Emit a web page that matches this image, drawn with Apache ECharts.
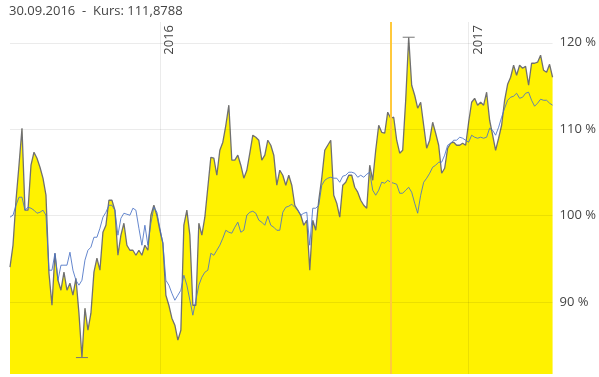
<!DOCTYPE html>
<html>
<head>
<meta charset="utf-8">
<script src="https://cdn.jsdelivr.net/npm/echarts@6.0.0/dist/echarts.min.js"></script>
<style>
  html, body { margin: 0; padding: 0; background: #fff; }
  #chart { width: 599px; height: 377px; }
</style>
</head>
<body>
<div id="chart"></div>
<script>
const kurs = [
  94.05, 96.59, 101.79, 105.84, 110.12, 100.64, 100.64, 105.84, 107.34, 106.65,
  105.61, 104.34, 102.37, 93.35, 89.65, 95.66, 92.54, 91.39, 93.47, 91.39,
  92.20, 90.81, 92.77, 88.73, 83.6, 89.31, 86.76, 88.73, 93.47, 95.09,
  93.70, 98.09, 98.90, 101.79, 101.79, 100.64, 95.43, 97.75, 99.13, 96.59,
  96.01, 96.01, 95.43, 96.01, 95.43, 96.59, 96.01, 100.06, 101.21, 100.06,
  98.32, 96.82, 90.81, 89.65, 88.15, 87.34, 85.61, 86.76, 98.90, 100.64,
  97.75, 89.65, 89.65, 99.13, 97.75, 99.83, 103.29, 106.76, 106.65, 104.68,
  107.57, 108.50, 110.46, 112.78, 106.42, 106.42, 107.00, 105.84, 104.34, 105.26,
  107.23, 109.31, 109.08, 108.73, 106.42, 107.00, 108.73, 108.15, 107.00, 103.53,
  105.26, 104.68, 103.53, 104.68, 103.53, 101.21, 100.64, 100.06, 98.90, 99.48,
  93.70, 99.48, 98.32, 101.79, 104.34, 107.57, 108.15, 108.73, 102.37, 101.45,
  99.83, 103.53, 103.87, 104.68, 104.68, 103.29, 102.72, 101.79, 101.21, 100.87,
  105.84, 104.10, 107.57, 110.46, 109.65, 109.54, 111.97, 111.27, 111.39, 108.73,
  107.23, 107.57, 113.35, 120.64, 115.09, 113.93, 112.43, 113.12, 110.46, 107.80,
  108.73, 110.81, 109.54, 108.15, 104.91, 105.49, 107.80, 108.38, 108.50, 108.15,
  108.15, 108.38, 108.15, 110.81, 113.12, 113.58, 112.78, 113.12, 112.78, 114.28,
  111.04, 109.31, 107.57, 108.96, 110.46, 113.35, 115.20, 116.01, 117.40, 116.24,
  117.40, 117.05, 117.28, 115.09, 117.63, 117.63, 117.75, 118.56, 116.82, 116.59,
  117.51, 116.01
];

// Vergleichsindex in %
const vergleich = [
  99.83, 100.06, 101.21, 102.14, 102.14, 100.64, 100.98, 100.87, 100.64, 100.29,
  100.40, 100.64, 100.06, 93.70, 93.70, 95.66, 92.54, 94.28, 94.28, 94.28,
  95.78, 93.70, 92.54, 91.97, 92.54, 94.86, 96.01, 96.36, 97.51, 97.51,
  98.55, 99.83, 100.40, 101.21, 101.21, 100.64, 97.75, 99.71, 100.29, 100.17,
  100.06, 100.87, 100.64, 98.55, 96.59, 98.90, 96.59, 99.13, 100.98, 100.40,
  98.55, 96.82, 92.54, 91.97, 91.04, 90.23, 90.81, 91.39, 93.12, 91.97,
  90.23, 88.50, 90.23, 91.97, 92.89, 93.47, 93.70, 95.66, 95.43, 96.01,
  96.59, 97.40, 98.32, 98.09, 97.98, 98.67, 99.25, 98.09, 98.32, 100.06,
  100.40, 100.52, 100.29, 99.48, 99.25, 98.90, 99.94, 98.90, 98.67, 98.32,
  98.32, 100.40, 100.98, 101.10, 101.33, 100.98, 100.64, 100.06, 100.29, 100.40,
  96.59, 100.87, 100.87, 101.21, 103.53, 104.10, 104.34, 104.45, 104.34, 104.34,
  103.87, 104.57, 104.68, 105.03, 105.03, 104.91, 104.45, 104.68, 104.45, 104.80,
  105.03, 102.95, 102.37, 102.95, 103.87, 103.76, 104.10, 103.87, 103.76, 103.64,
  102.60, 102.60, 102.95, 103.29, 102.72, 101.45, 100.29, 102.37, 103.87, 104.34,
  104.91, 105.61, 105.84, 106.19, 106.19, 107.00, 108.15, 108.38, 108.73, 108.73,
  109.08, 108.96, 108.73, 108.50, 109.31, 109.08, 108.96, 109.08, 108.96, 109.08,
  110.12, 109.88, 109.31, 110.23, 111.39, 112.43, 113.35, 113.70, 113.82, 114.16,
  113.58, 113.70, 114.16, 114.28, 113.35, 112.66, 113.01, 113.47, 113.35, 113.35,
  113.01, 112.78
];

const yTicks = [90, 100, 110, 120];
const yearMarks = [Date.UTC(2016, 0, 1), Date.UTC(2017, 0, 1)];
const yearLabels = ['2016', '2017'];
const cursorDate = Date.UTC(2016, 8, 30);
const titleText = '30.09.2016  -  Kurs: 111,8788';

// Datumsachse: erster Wert am 07.07.2015, danach gleichmäßige Schritte
const startDate = Date.UTC(2015, 6, 7);
const stepDays = 3.555;
const dates = kurs.map((_, i) => startDate + i * stepDays * 86400000);

let chartDom = document.getElementById('chart');
let myChart = echarts.init(chartDom, null, { renderer: 'canvas' });

const gridColor = 'rgba(0, 0, 0, 0.08)';

const option = {
  animation: false,
  textStyle: { fontFamily: 'Open Sans' },
  title: {
    text: titleText,
    left: 4,
    top: 0,
    textStyle: { fontSize: 13, fontWeight: 'normal', color: '#444', fontFamily: 'Open Sans' }
  },
  grid: { left: 10, right: 44, top: 22, bottom: 3 },
  xAxis: {
    type: 'time',
    min: dates[0],
    max: dates[dates.length - 1],
    axisLine: { show: false },
    axisTick: { show: false },
    axisLabel: { show: false },
    splitLine: { show: false }
  },
  yAxis: {
    type: 'value',
    position: 'right',
    min: 81.7,
    max: 122.4,
    axisLine: { show: false },
    axisTick: { show: false, customValues: yTicks },
    splitLine: { show: false },
    axisLabel: {
      customValues: yTicks,
      margin: 7,
      color: '#444',
      fontSize: 13,
      fontFamily: 'Open Sans',
      formatter: v => v + ' %'
    }
  },
  series: [
    {
      name: 'Kurs',
      type: 'line',
      data: dates.map((d, i) => [d, kurs[i]]),
      symbol: 'none',
      z: 2,
      lineStyle: { color: '#707070', width: 1.3 },
      areaStyle: { color: '#fff200', opacity: 1, origin: 'start' },
      markPoint: {
        symbol: 'rect',
        symbolSize: [12, 1],
        silent: true,
        itemStyle: { color: '#777' },
        label: { show: false },
        data: [{ type: 'max' }, { type: 'min' }]
      }
    },
    {
      name: 'Vergleich',
      type: 'line',
      data: dates.map((d, i) => [d, vergleich[i]]),
      symbol: 'none',
      z: 3,
      lineStyle: { color: '#4a72c6', width: 1, opacity: 0.85 }
    },
    {
      name: 'Raster',
      type: 'line',
      data: [],
      z: 5,
      silent: true,
      markLine: {
        silent: true,
        symbol: 'none',
        animation: false,
        lineStyle: { color: gridColor, width: 1, type: 'solid' },
        label: { show: false },
        data: [
          ...yTicks.map(v => ({ yAxis: v })),
          ...yearMarks.map((d, i) => ({
            xAxis: d,
            label: {
              show: true,
              formatter: yearLabels[i],
              position: 'insideEndBottom',
              color: '#444',
              fontSize: 13,
              fontFamily: 'Open Sans',
              distance: 3
            }
          })),
          {
            xAxis: cursorDate,
            lineStyle: { color: '#ffc93c', width: 2, type: 'solid' }
          }
        ]
      }
    }
  ]
};

myChart.setOption(option);

window.addEventListener('resize', function() {
  myChart.resize();
});
</script>
</body>
</html>
